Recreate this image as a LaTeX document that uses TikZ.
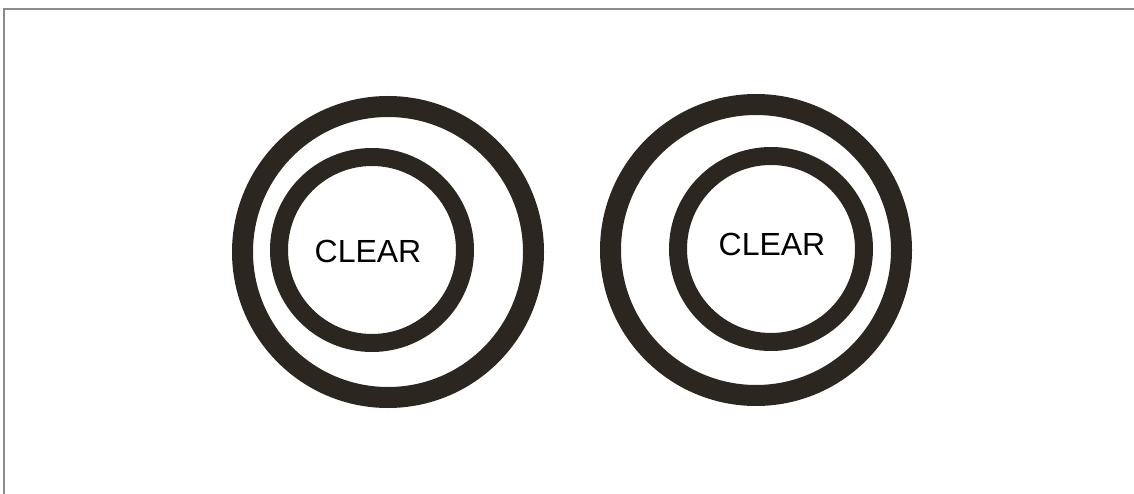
\documentclass[tikz,border=0pt]{standalone}
\usepackage{fontspec}
\setmainfont{Liberation Sans}
\usepackage{tikz}
\usetikzlibrary{positioning}
\definecolor{ringcol}{HTML}{2B2620}
\definecolor{framecol}{HTML}{8C8C8C}

\begin{document}
\begin{tikzpicture}[x=1pt, y=-1pt,
    outerring/.style={draw=ringcol, circle, line width=21pt, minimum size=291pt, inner sep=0pt},
    innerring/.style={draw=ringcol, circle, line width=18pt, minimum size=186pt, inner sep=0pt},
    clearlabel/.style={font=\fontsize{32}{38}\selectfont, text=black, inner sep=0pt}]
    \useasboundingbox (0,0) rectangle (1134,494);
    % frame
    \coordinate (tl) at (4,9);
    \coordinate (tr) at (1134,9);
    \coordinate (bl) at (4,494);
    \draw[framecol, line width=2.5pt] (bl) -- (tl) -- (tr);
    % left button
    \node[outerring] (outerL) at (388,252) {};
    \node[innerring] (innerL) at (372,250) {};
    \node[clearlabel] (clearL) at (368,251) {CLEAR};
    % right button
    \node[outerring] (outerR) at (756,250) {};
    \node[innerring] (innerR) at (771,249) {};
    \node[clearlabel] (clearR) at (772,244) {CLEAR};
  \end{tikzpicture}
\end{document}
